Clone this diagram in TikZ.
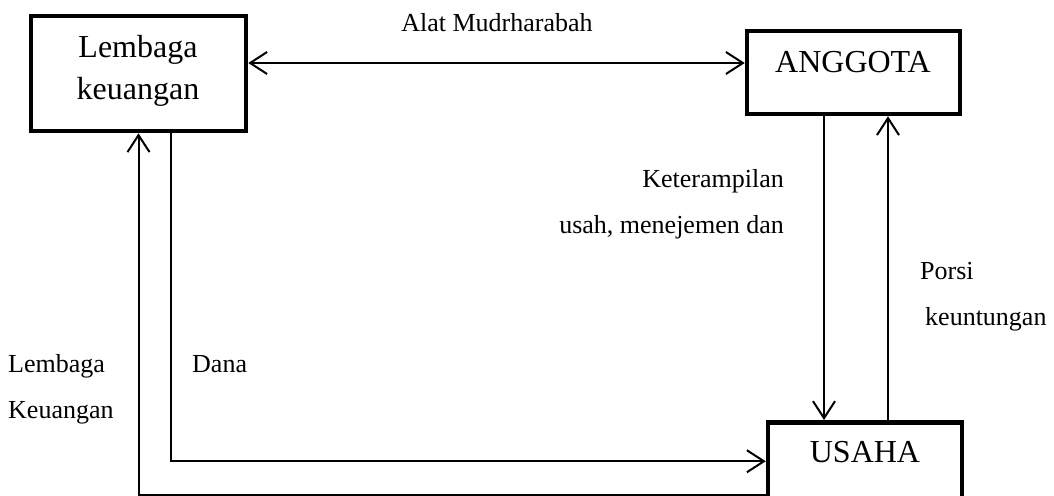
\documentclass[tikz,border=0pt]{standalone}
\usepackage{fontspec}
\setmainfont{Liberation Serif}
\usetikzlibrary{arrows.meta}
\begin{document}
\begin{tikzpicture}[x=1pt,y=-1pt,
  box/.style={draw,rectangle,line width=4.5pt,inner sep=0pt},
  boxtxt/.style={font=\fontsize{32}{38}\selectfont,anchor=base,inner sep=0pt},
  lbl/.style={font=\fontsize{26}{30}\selectfont,inner sep=0pt},
  flow/.style={line width=2pt,-{Straight Barb[length=17pt,width=22pt]}},
  dbl/.style={line width=2pt,{Straight Barb[length=17pt,width=22pt]}-{Straight Barb[length=17pt,width=22pt]}}]
\useasboundingbox (0,0) rectangle (1054,495);
\clip (0,0) rectangle (1054,495);

% boxes
\node[box,minimum width=215pt,minimum height=115pt] (lk) at (138.5,73.5) {};
\node[box,minimum width=213pt,minimum height=83pt] (ang) at (853.5,72.5) {};
\node[box,minimum width=194pt,minimum height=110pt,anchor=north] (usaha) at (865,420) {};

% box texts
\node[boxtxt] (lkt1) at (138,57) {Lembaga};
\node[boxtxt] (lkt2) at (138,99) {keuangan};
\node[boxtxt] (angt) at (853,73) {ANGGOTA};
\node[boxtxt] (ust) at (865,462) {USAHA};

% connector end points
\coordinate (a1) at ([yshift=10.5pt]lk.east);
\coordinate (b1) at ([xshift=-29.5pt]ang.south);
\coordinate (c1) at ([xshift=23pt]usaha.north);
\coordinate (d1) at ([xshift=32.5pt]lk.south);
\coordinate (d2) at ([yshift=16pt]usaha.west);
\coordinate (e1) at ([yshift=-18pt]usaha.west);

% connectors
\draw[dbl] (a1) -- (a1 -| ang.west);
\draw[flow] (b1) -- (b1 |- usaha.north);
\draw[flow] (c1) -- (c1 |- ang.south);
\draw[flow] (d1) |- (d2);
\draw[flow] (e1) -| (lk.south);

% labels
\node[lbl,anchor=base] (t1) at (497,32) {Alat Mudrharabah};
\node[lbl,anchor=base east] (t2) at (784,187) {Keterampilan};
\node[lbl,anchor=base east] (t3) at (784,233) {usah, menejemen dan};
\node[lbl,anchor=base west] (t4) at (920,279) {Porsi};
\node[lbl,anchor=base west] (t5) at (925,325) {keuntungan};
\node[lbl,anchor=base west] (t6) at (8,372) {Lembaga};
\node[lbl,anchor=base west] (t7) at (8,418) {Keuangan};
\node[lbl,anchor=base west] (t8) at (192,372) {Dana};
\end{tikzpicture}
\end{document}
